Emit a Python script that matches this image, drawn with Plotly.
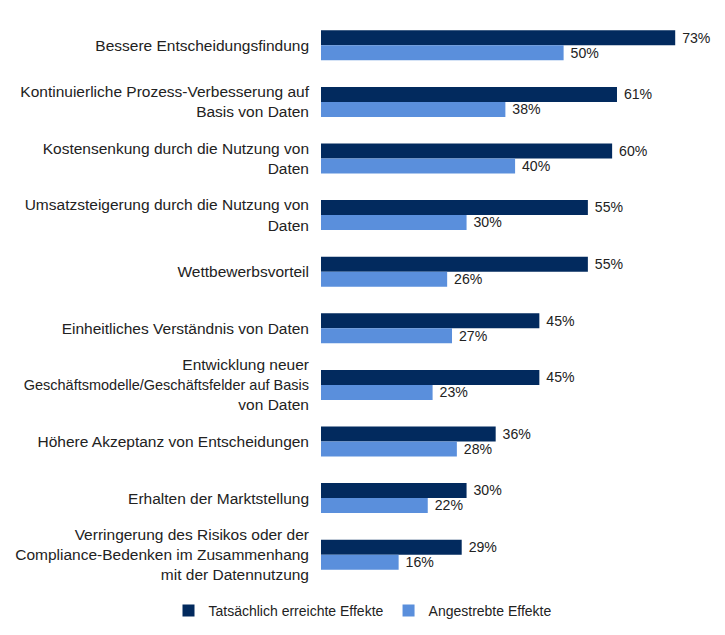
import plotly.graph_objects as go

categories = [
    "Bessere Entscheidungsfindung",
    "Kontinuierliche Prozess-Verbesserung auf<br>Basis von Daten",
    "Kostensenkung durch die Nutzung von<br>Daten",
    "Umsatzsteigerung durch die Nutzung von<br>Daten",
    "Wettbewerbsvorteil",
    "Einheitliches Verständnis von Daten",
    "Entwicklung neuer<br><span style='font-size:14.5px'>Geschäftsmodelle/Geschäftsfelder auf Basis</span><br>von Daten",
    "Höhere Akzeptanz von Entscheidungen",
    "Erhalten der Marktstellung",
    "Verringerung des Risikos oder der<br>Compliance-Bedenken im Zusammenhang<br>mit der Datennutzung",
]
achieved = [73, 61, 60, 55, 55, 45, 45, 36, 30, 29]
targeted = [50, 38, 40, 30, 26, 27, 23, 28, 22, 16]
series_names = ["Tatsächlich erreichte Effekte", "Angestrebte Effekte"]

dark = "#022A5E"
light = "#5A8FDC"
font = "Liberation Sans, Arial, sans-serif"

fig = go.Figure()
for vals, name, col in [(achieved, series_names[0], dark), (targeted, series_names[1], light)]:
    fig.add_trace(go.Bar(
        y=categories, x=vals, orientation="h", name=name,
        marker=dict(color=col, line=dict(width=0)),
        texttemplate=" %{x}%", textposition="outside", textangle=0,
        textfont=dict(size=16, color="#222222", family=font), cliponaxis=False,
    ))

fig.update_layout(
    width=709, height=619,
    barmode="group", bargap=0.47, bargroupgap=0,
    plot_bgcolor="white", paper_bgcolor="white",
    font=dict(family=font, size=15, color="#222222"),
    margin=dict(l=313, r=2, t=9, b=44, autoexpand=False),
    showlegend=True,
    legend=dict(orientation="h", xref="container", x=0.5, xanchor="center",
                yref="paper", y=-0.021, yanchor="top",
                font=dict(size=14, family=font, color="#222222"),
                itemwidth=30, traceorder="normal"),
)
fig.update_xaxes(range=[0, 81.2], visible=False, showgrid=False, zeroline=False)
fig.update_yaxes(autorange="reversed", showgrid=False, showline=False, ticks="",
                 ticklabelstandoff=11, tickfont=dict(size=15.5, family=font, color="#222222"))

fig.write_html("out.html")
